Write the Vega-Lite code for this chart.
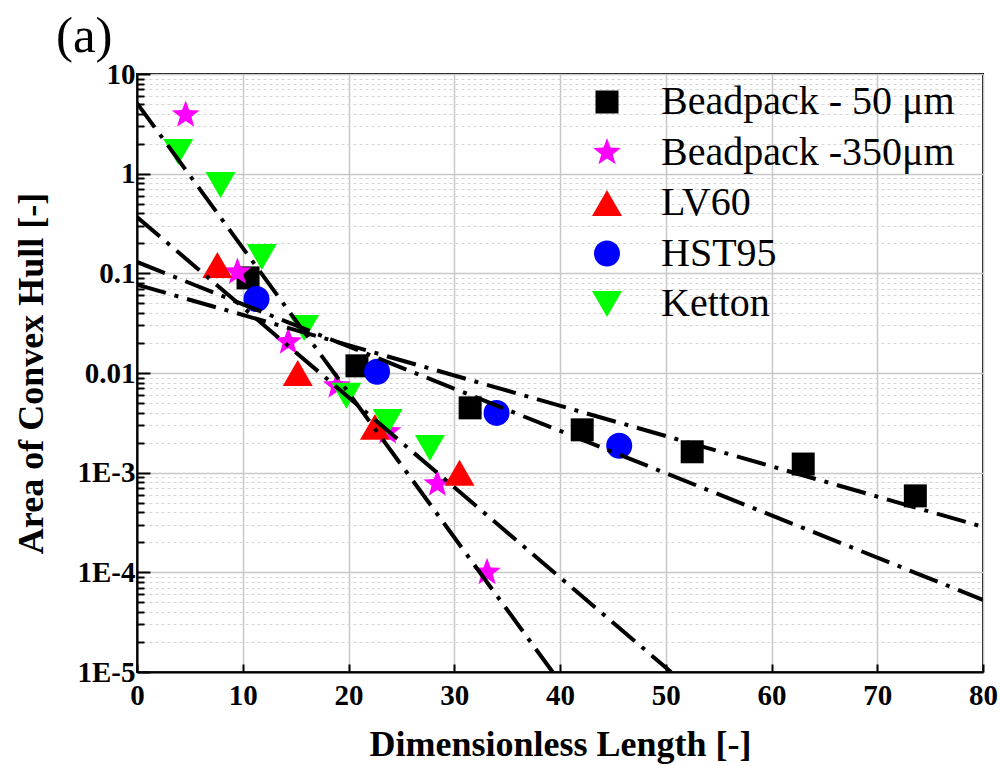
{
  "$schema": "https://vega.github.io/schema/vega-lite/v6.json",
  "autosize": {"type": "none"},
  "width": 846,
  "height": 598,
  "padding": {"left": 137, "top": 74, "right": 18, "bottom": 93},
  "background": "white",
  "config": {
    "view": {"stroke": "black", "strokeWidth": 2},
    "font": "Liberation Serif"
  },
  "title": {"text": "(a)", "font": "Liberation Serif", "fontSize": 51, "fontWeight": "normal", "anchor": "start", "dx": -81, "dy": 11, "offset": 8, "color": "black", "frame": "group"},
  "datasets": {
    "points": [
      {"series": "Beadpack - 50 μm", "x": 10.5, "y": 0.09},
      {"series": "Beadpack - 50 μm", "x": 20.8, "y": 0.0118},
      {"series": "Beadpack - 50 μm", "x": 31.5, "y": 0.00447},
      {"series": "Beadpack - 50 μm", "x": 42.1, "y": 0.00269},
      {"series": "Beadpack - 50 μm", "x": 52.5, "y": 0.00162},
      {"series": "Beadpack - 50 μm", "x": 63.0, "y": 0.00122},
      {"series": "Beadpack - 50 μm", "x": 73.6, "y": 0.000585},
      {"series": "Beadpack -350μm", "x": 4.6, "y": 3.88},
      {"series": "Beadpack -350μm", "x": 9.5, "y": 0.103},
      {"series": "Beadpack -350μm", "x": 14.3, "y": 0.0205},
      {"series": "Beadpack -350μm", "x": 18.9, "y": 0.0074},
      {"series": "Beadpack -350μm", "x": 23.7, "y": 0.00257},
      {"series": "Beadpack -350μm", "x": 28.4, "y": 0.00077},
      {"series": "Beadpack -350μm", "x": 33.1, "y": 0.0001},
      {"series": "LV60", "x": 7.6, "y": 0.121},
      {"series": "LV60", "x": 15.2, "y": 0.01},
      {"series": "LV60", "x": 22.5, "y": 0.00288},
      {"series": "LV60", "x": 30.5, "y": 0.001},
      {"series": "HST95", "x": 11.3, "y": 0.0553},
      {"series": "HST95", "x": 22.7, "y": 0.0103},
      {"series": "HST95", "x": 34.0, "y": 0.00398},
      {"series": "HST95", "x": 45.6, "y": 0.00186},
      {"series": "Ketton", "x": 3.9, "y": 1.65},
      {"series": "Ketton", "x": 7.9, "y": 0.77},
      {"series": "Ketton", "x": 11.8, "y": 0.146},
      {"series": "Ketton", "x": 15.8, "y": 0.0283},
      {"series": "Ketton", "x": 19.8, "y": 0.0059},
      {"series": "Ketton", "x": 23.7, "y": 0.00323},
      {"series": "Ketton", "x": 27.7, "y": 0.00177}
    ],
    "fits": [
      {"fit": "A", "x": 0, "y": 5.1},
      {"fit": "A", "x": 39.3, "y": 0.00001},
      {"fit": "B", "x": 0, "y": 0.367},
      {"fit": "B", "x": 50.5, "y": 0.00001},
      {"fit": "C", "x": 0, "y": 0.13},
      {"fit": "C", "x": 80, "y": 0.000053},
      {"fit": "D", "x": 0, "y": 0.077},
      {"fit": "D", "x": 80, "y": 0.000286}
    ]
  },
  "encoding": {
    "x": {
      "field": "x", "type": "quantitative",
      "scale": {"domain": [0, 80], "nice": false, "zero": false},
      "axis": {
        "title": "Dimensionless Length [-]",
        "values": [0, 10, 20, 30, 40, 50, 60, 70, 80],
        "grid": true, "gridColor": "#c8c8c8", "gridWidth": 1.5,
        "domainColor": "black", "domainWidth": 2,
        "ticks": true, "tickSize": -8, "tickColor": "black", "tickWidth": 2,
        "labelFont": "Liberation Serif", "labelFontWeight": "bold", "labelFontSize": 29, "labelColor": "black",
        "labelPadding": 17, "labelFlush": false, "labelOverlap": false,
        "titleFont": "Liberation Serif", "titleFontWeight": "bold", "titleFontSize": 36, "titleColor": "black",
        "titlePadding": 17
      }
    },
    "y": {
      "field": "y", "type": "quantitative",
      "scale": {"type": "log", "domain": [0.00001, 10], "nice": false},
      "axis": {
        "title": "Area of Convex Hull [-]",
        "values": [0.00001,0.00002,0.00003,0.00004,0.00005,0.00006,0.00007,0.00008,0.00009,
                   0.0001,0.0002,0.0003,0.0004,0.0005,0.0006,0.0007,0.0008,0.0009,
                   0.001,0.002,0.003,0.004,0.005,0.006,0.007,0.008,0.009,
                   0.01,0.02,0.03,0.04,0.05,0.06,0.07,0.08,0.09,
                   0.1,0.2,0.3,0.4,0.5,0.6,0.7,0.8,0.9,
                   1,2,3,4,5,6,7,8,9,10],
        "labelExpr": "datum.value == 10 ? '10' : datum.value == 1 ? '1' : datum.value == 0.1 ? '0.1' : datum.value == 0.01 ? '0.01' : datum.value == 0.001 ? '1E-3' : datum.value == 0.0001 ? '1E-4' : datum.value == 0.00001 ? '1E-5' : ''",
        "grid": true,
        "gridColor": {"condition": {"test": "indexof([10,1,0.1,0.01,0.001,0.0001,0.00001], datum.value) >= 0", "value": "#c8c8c8"}, "value": "#d4d4d4"},
        "gridWidth": {"condition": {"test": "indexof([10,1,0.1,0.01,0.001,0.0001,0.00001], datum.value) >= 0", "value": 1.5}, "value": 1},
        "gridDash": {"condition": {"test": "indexof([10,1,0.1,0.01,0.001,0.0001,0.00001], datum.value) >= 0", "value": [1, 0]}, "value": [3, 3]},
        "domainColor": "black", "domainWidth": 2,
        "ticks": true,
        "tickSize": {"condition": {"test": "indexof([10,1,0.1,0.01,0.001,0.0001,0.00001], datum.value) >= 0", "value": -13}, "value": -7},
        "tickColor": "black", "tickWidth": 2,
        "labelFont": "Liberation Serif", "labelFontWeight": "bold", "labelFontSize": 29, "labelColor": "black",
        "labelPadding": 15, "labelFlush": false, "labelOverlap": false,
        "titleFont": "Liberation Serif", "titleFontWeight": "bold", "titleFontSize": 36, "titleColor": "black",
        "titlePadding": 27
      }
    }
  },
  "layer": [
    {
      "data": {"name": "points"},
      "mark": {"type": "point", "filled": true, "opacity": 1, "strokeWidth": 0},
      "encoding": {
        "color": {
          "field": "series", "type": "nominal",
          "scale": {"domain": ["Beadpack - 50 μm", "Beadpack -350μm", "LV60", "HST95", "Ketton"],
                    "range": ["#000000", "#ff00ff", "#ff0000", "#0000ff", "#00ff00"]},
          "legend": {"orient": "none", "legendX": 450, "legendY": 8, "title": null, "padding": 0,
                     "labelFont": "Liberation Serif", "labelFontSize": 40, "labelColor": "black", "labelLimit": 0,
                     "labelOffset": 34, "rowPadding": 10.5, "symbolStrokeWidth": 0, "symbolOpacity": 1}
        },
        "shape": {
          "field": "series", "type": "nominal",
          "scale": {"domain": ["Beadpack - 50 μm", "Beadpack -350μm", "LV60", "HST95", "Ketton"],
                    "range": ["square", "M0,-1L0.245,-0.337L0.951,-0.309L0.396,0.129L0.588,0.809L0,0.417L-0.588,0.809L-0.396,0.129L-0.951,-0.309L-0.245,-0.337Z", "triangle-up", "circle", "triangle-down"]},
          "legend": {"orient": "none", "legendX": 450, "legendY": 8, "title": null, "padding": 0,
                     "labelFont": "Liberation Serif", "labelFontSize": 40, "labelColor": "black", "labelLimit": 0,
                     "labelOffset": 34, "rowPadding": 10.5, "symbolStrokeWidth": 0, "symbolOpacity": 1}
        },
        "size": {
          "field": "series", "type": "nominal",
          "scale": {"type": "ordinal", "domain": ["Beadpack - 50 μm", "Beadpack -350μm", "LV60", "HST95", "Ketton"],
                    "range": [529, 850, 900, 676, 900]},
          "legend": {"orient": "none", "legendX": 450, "legendY": 8, "title": null, "padding": 0,
                     "labelFont": "Liberation Serif", "labelFontSize": 40, "labelColor": "black", "labelLimit": 0,
                     "labelOffset": 34, "rowPadding": 10.5, "symbolStrokeWidth": 0, "symbolOpacity": 1}
        }
      }
    },
    {
      "data": {"name": "fits"},
      "mark": {"type": "line", "color": "black", "strokeWidth": 4, "strokeDash": [30, 9, 4, 9], "clip": true},
      "encoding": {
        "detail": {"field": "fit", "type": "nominal"}
      }
    }
  ]
}
